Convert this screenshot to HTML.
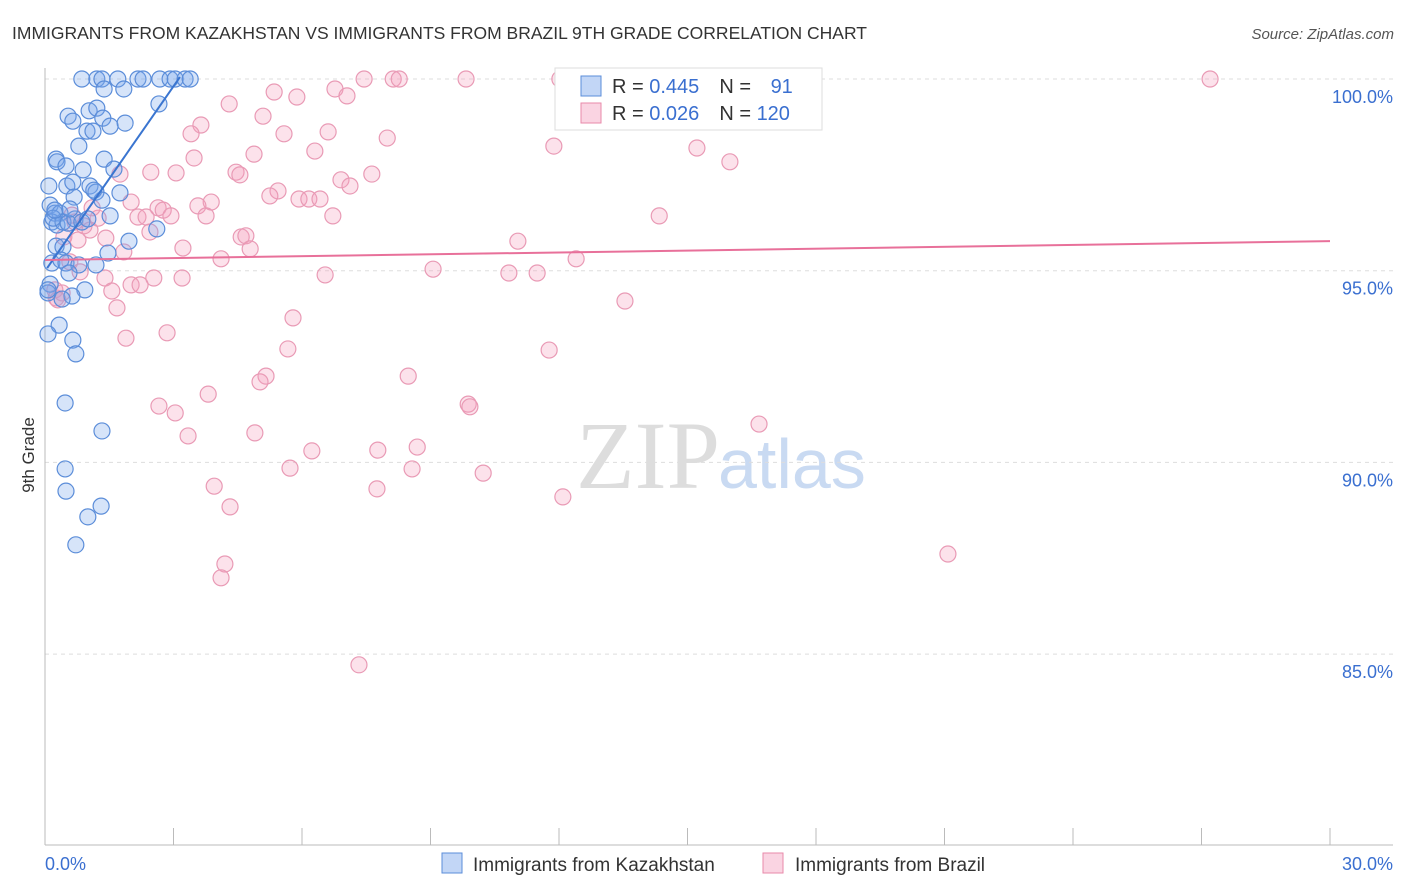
<!DOCTYPE html>
<html><head><meta charset="utf-8"><style>
body{margin:0;background:#fff;font-family:"Liberation Sans",sans-serif}
</style></head><body>
<svg id="chart" width="1406" height="892" xmlns="http://www.w3.org/2000/svg" style="display:block">
<text x="12" y="39" font-size="17.5" fill="#333" font-family="Liberation Sans, sans-serif">IMMIGRANTS FROM KAZAKHSTAN VS IMMIGRANTS FROM BRAZIL 9TH GRADE CORRELATION CHART</text>
<text x="1394" y="39" font-size="15" fill="#555" font-style="italic" text-anchor="end">Source: ZipAtlas.com</text>
<text x="720" y="488" font-size="96" text-anchor="end" fill="#ddd" font-family="Liberation Serif, serif">ZIP</text>
<text x="718" y="488" font-size="70" fill="#c9daf2">atlas</text>
<text transform="translate(34,455) rotate(-90)" font-size="17" fill="#333" text-anchor="middle">9th Grade</text>
<g id="grid"></g><g id="pts"></g><g id="lines"></g>
<g>
<rect x="555" y="68" width="267" height="62" fill="#fff" stroke="#ddd"/>
<rect x="581" y="76" width="20" height="20" fill="rgba(120,165,235,0.45)" stroke="#5b8dd9"/>
<rect x="581" y="103" width="20" height="20" fill="rgba(245,160,190,0.45)" stroke="#e88aaa"/>
<text x="612" y="93" font-size="20" fill="#333">R = <tspan fill="#3a6fd0">0.445</tspan><tspan dx="20">N = </tspan><tspan dx="14" fill="#3a6fd0">91</tspan></text>
<text x="612" y="120" font-size="20" fill="#333">R = <tspan fill="#3a6fd0">0.026</tspan><tspan dx="20">N = </tspan><tspan fill="#3a6fd0">120</tspan></text>
</g>
<g>
<rect x="442" y="853" width="20" height="20" fill="rgba(120,165,235,0.45)" stroke="#5b8dd9"/>
<text x="473" y="871" font-size="19" fill="#333">Immigrants from Kazakhstan</text>
<rect x="763" y="853" width="20" height="20" fill="rgba(245,160,190,0.45)" stroke="#e88aaa"/>
<text x="795" y="871" font-size="19" fill="#333">Immigrants from Brazil</text>
</g>
</svg>
<script>
const xTicks=[0,3,6,9,12,15,18,21,24,27,30];
const yTicks=[85,90,95,100];
const blueX=[0.86,1.21,1.33,1.70,2.17,2.29,2.68,2.92,3.04,3.27,3.39,1.84,1.38,2.66,0.54,0.65,1.03,1.21,1.35,1.52,1.87,0.98,1.12,0.79,0.26,0.28,0.49,0.89,1.38,1.61,0.09,0.51,0.65,1.05,1.19,1.75,1.33,0.68,0.12,0.23,0.35,0.16,0.28,0.42,0.54,0.70,0.86,1.00,1.52,2.61,1.96,0.26,0.42,1.47,0.16,0.37,0.49,0.79,1.19,0.56,0.12,0.07,0.93,0.63,0.40,0.33,0.07,0.65,0.72,0.47,1.33,0.47,0.49,1.31,1.00,0.72,0.19,0.07,0.23,0.58,1.14];
const blueY=[100,100,100,100,100,100,100,100,100,100,100,99.74,99.74,99.35,99.03,98.90,99.17,99.24,98.98,98.77,98.85,98.64,98.64,98.25,97.91,97.84,97.73,97.63,97.91,97.65,97.21,97.21,97.31,97.21,97.05,97.03,96.84,96.92,96.71,96.50,96.50,96.27,96.19,96.27,96.24,96.35,96.27,96.35,96.43,96.09,95.77,95.64,95.62,95.46,95.20,95.28,95.20,95.15,95.15,94.94,94.65,94.42,94.50,94.34,94.26,93.58,93.35,93.19,92.83,91.55,90.82,89.83,89.25,88.86,88.58,87.85,96.37,94.50,96.58,96.61,97.10];
const pinkX=[7.45,8.13,8.27,9.83,12.02,16.23,27.20,6.77,7.05,5.35,5.88,4.30,5.09,3.64,3.41,7.99,6.61,5.58,6.30,4.88,3.48,11.88,15.22,15.99,4.46,4.55,2.47,3.06,1.75,6.91,7.63,7.12,5.44,5.25,5.93,6.16,6.42,3.88,3.57,2.01,2.64,2.76,2.17,2.36,2.94,3.76,6.72,14.34,1.24,0.70,1.05,2.45,4.58,4.69,1.42,0.77,3.22,4.79,11.04,1.84,4.11,12.40,9.06,10.83,11.49,6.54,3.20,2.54,1.40,2.01,2.22,1.56,0.26,13.54,1.68,5.79,2.85,1.89,11.77,5.67,5.16,5.02,8.48,3.81,2.66,3.04,9.88,9.92,16.67,3.34,4.90,8.69,7.77,6.23,5.72,8.57,10.23,3.95,7.75,4.32,12.09,4.20,4.11,21.08,7.33,0.23,0.40,0.58,0.82,0.30,0.44,0.91,0.63,1.10];
const pinkY=[100,100,100,100,100,100,100,99.74,99.56,99.66,99.53,99.35,99.03,98.80,98.57,98.46,98.62,98.57,98.12,98.04,97.94,98.25,98.20,97.84,97.57,97.50,97.57,97.55,97.52,97.37,97.52,97.21,97.08,96.95,96.87,96.87,96.87,96.79,96.69,96.79,96.64,96.58,96.40,96.40,96.43,96.43,96.43,96.43,96.37,96.27,96.06,96.01,95.88,95.91,95.85,95.80,95.59,95.57,95.77,95.49,95.31,95.31,95.04,94.94,94.94,94.89,94.81,94.81,94.81,94.63,94.63,94.47,94.29,94.21,94.03,93.77,93.38,93.24,92.93,92.96,92.25,92.10,92.25,91.78,91.47,91.29,91.52,91.45,91.00,90.69,90.77,90.40,90.32,90.30,89.85,89.83,89.72,89.38,89.31,88.84,89.10,87.35,86.99,87.61,84.72,94.50,94.42,95.23,94.97,94.24,95.88,96.17,96.45,96.64];
const blueFit=[[0.05,95.07],[3.15,100.05]];
const pinkFit=[[0,95.28],[30,95.77]];
const NS='http://www.w3.org/2000/svg';
const sx=v=>45+v*(1285/30);
const sy=v=>79+(100-v)*38.34;
function mk(tag,attrs,parent){const e=document.createElementNS(NS,tag);for(const k in attrs)e.setAttribute(k,attrs[k]);parent.appendChild(e);return e;}
const grid=document.getElementById('grid');
yTicks.forEach(t=>{
 const l=mk('line',{x1:45,x2:1393,y1:sy(t),y2:sy(t),stroke:'#ddd','stroke-dasharray':'4,4'},grid);
 
 
 const tx=mk('text',{x:1393,y:sy(t)+24,'font-size':18,fill:'#3a6fd0','text-anchor':'end'},grid);
 tx.textContent=t.toFixed(1)+'%';
 
 
});
const ya=mk('line',{x1:45,x2:45,y1:68,y2:845,stroke:'#bbb'},grid);


const xa=mk('line',{x1:45,x2:1393,y1:845,y2:845,stroke:'#bbb'},grid);


xTicks.forEach(t=>{
 const l=mk('line',{x1:sx(t),x2:sx(t),y1:828,y2:845,stroke:'#bbb'},grid);
 
 
});
[[0,'start',45],[30,'end',1393]].forEach(([t,a,x])=>{
 const tx=mk('text',{x:x,y:870,'font-size':18,fill:'#3a6fd0','text-anchor':a},grid);
 tx.textContent=t.toFixed(1)+'%';
 
 
});
const pts=document.getElementById('pts');
pinkX.forEach((v,i)=>{
 const c=mk('circle',{cx:sx(v),cy:sy(pinkY[i]),r:8,fill:'rgba(245,160,190,0.3)',stroke:'#e99ab5','stroke-width':1.2},pts);
 
 
});
blueX.forEach((v,i)=>{
 const c=mk('circle',{cx:sx(v),cy:sy(blueY[i]),r:8,fill:'rgba(120,165,235,0.3)',stroke:'#5b8dd9','stroke-width':1.2},pts);
 
 
});
const lines=document.getElementById('lines');
const bl=mk('line',{x1:sx(blueFit[0][0]),y1:sy(blueFit[0][1]),x2:sx(blueFit[1][0]),y2:sy(blueFit[1][1]),stroke:'#3a75d0','stroke-width':2},lines);


const pl=mk('line',{x1:sx(pinkFit[0][0]),y1:sy(pinkFit[0][1]),x2:sx(pinkFit[1][0]),y2:sy(pinkFit[1][1]),stroke:'#e8709a','stroke-width':2},lines);


</script>
</body></html>
